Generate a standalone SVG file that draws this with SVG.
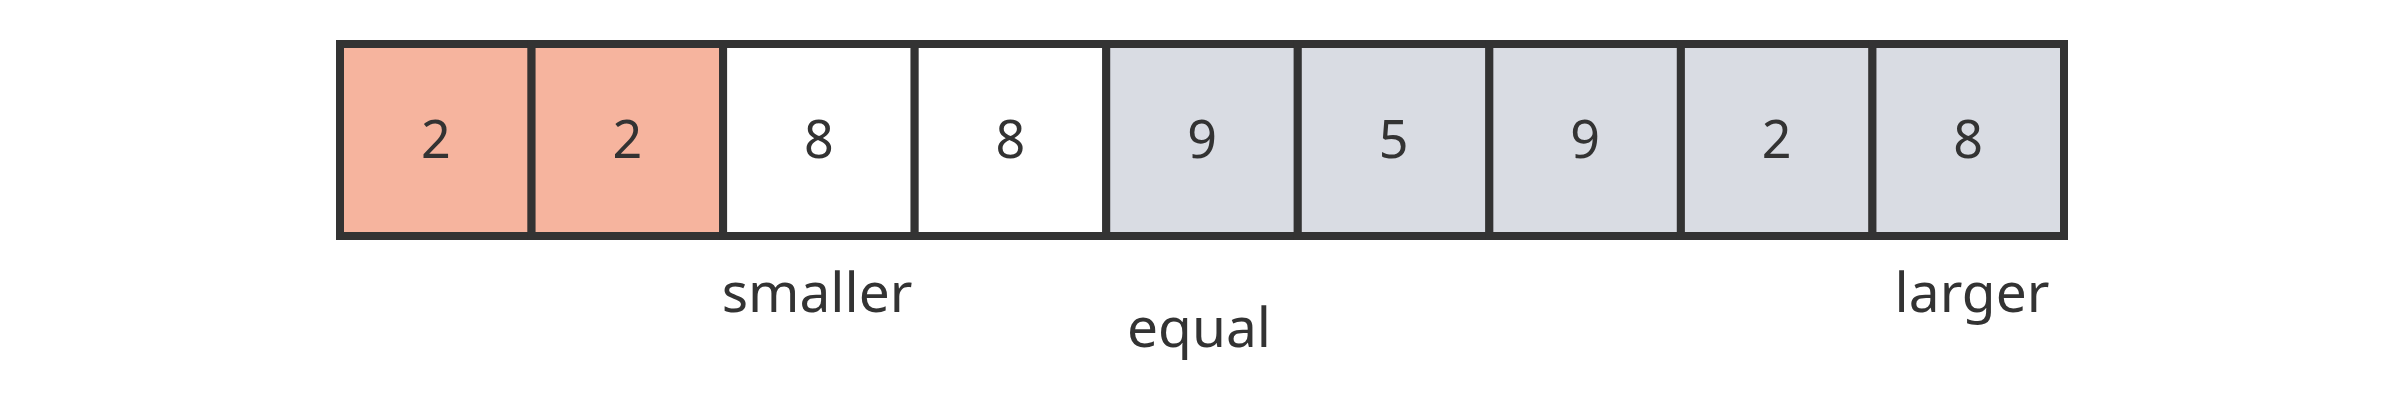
<svg xmlns="http://www.w3.org/2000/svg" width="2400" height="404" viewBox="0 0 2400 404">
<style>
.cell{stroke:#333333;stroke-width:8;stroke-linejoin:miter}
.s{fill:#F6B49E}
.w{fill:#FFFFFF}
.g{fill:#D9DCE3}
.num{font-family:"Noto Sans","Open Sans","Liberation Sans",sans-serif;font-size:52px;fill:#333333;text-anchor:middle}
.lbl{font-family:"Noto Sans","Open Sans","Liberation Sans",sans-serif;font-size:55px;fill:#333333;text-anchor:middle}
</style>
<rect width="2400" height="404" fill="#FFFFFF"/>
<g id="cell0"><rect class="cell s" x="340" y="44" width="191.56" height="192"/><text class="num" x="435.8" y="158">2</text></g>
<g id="cell1"><rect class="cell s" x="531.56" y="44" width="191.56" height="192"/><text class="num" x="627.3" y="158">2</text></g>
<g id="cell2"><rect class="cell w" x="723.11" y="44" width="191.56" height="192"/><text class="num" x="818.9" y="158">8</text></g>
<g id="cell3"><rect class="cell w" x="914.67" y="44" width="191.56" height="192"/><text class="num" x="1010.4" y="158">8</text></g>
<g id="cell4"><rect class="cell g" x="1106.22" y="44" width="191.56" height="192"/><text class="num" x="1202" y="158">9</text></g>
<g id="cell5"><rect class="cell g" x="1297.78" y="44" width="191.56" height="192"/><text class="num" x="1393.6" y="158">5</text></g>
<g id="cell6"><rect class="cell g" x="1489.33" y="44" width="191.56" height="192"/><text class="num" x="1585.1" y="158">9</text></g>
<g id="cell7"><rect class="cell g" x="1680.89" y="44" width="191.56" height="192"/><text class="num" x="1776.7" y="158">2</text></g>
<g id="cell8"><rect class="cell g" x="1872.44" y="44" width="191.56" height="192"/><text class="num" x="1968.2" y="158">8</text></g>
<g id="connectors"></g>
<g id="labels">
<text id="smaller" class="lbl" x="817" y="312">smaller</text>
<text id="equal" class="lbl" x="1199" y="347">equal</text>
<text id="larger" class="lbl" x="1972" y="312">larger</text>
</g>
</svg>
